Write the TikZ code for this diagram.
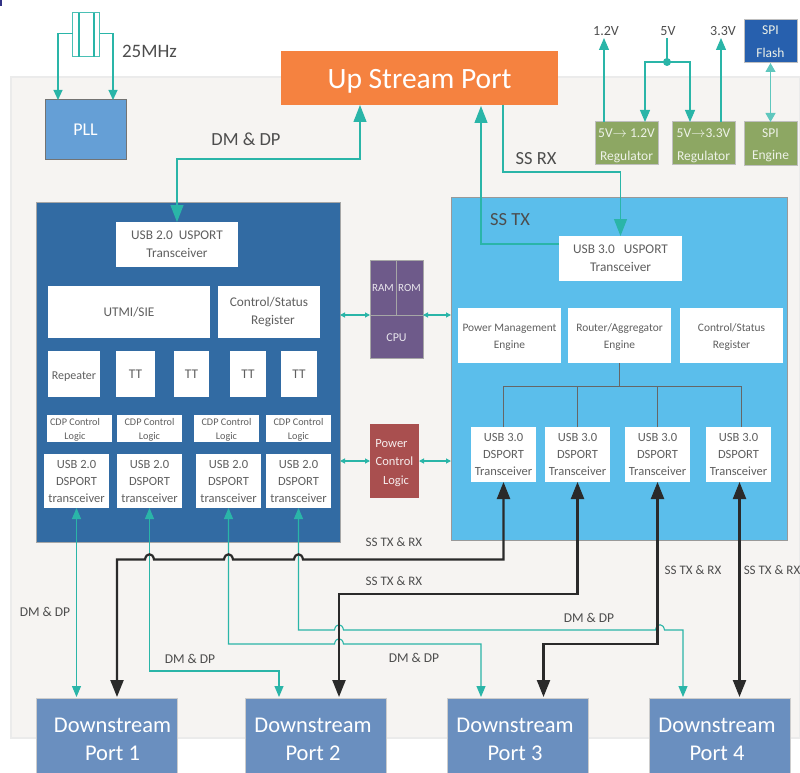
\documentclass[tikz,border=0pt]{standalone}
\usepackage{amsmath}
\usepackage{fontspec}
\setmainfont{Carlito}
\usepackage{tikz}
\usetikzlibrary{arrows.meta, positioning, calc}

\definecolor{tealline}{HTML}{2AB5A8}
\definecolor{blackline}{HTML}{2A2A2A}
\definecolor{lblgray}{HTML}{4D4D4D}
\definecolor{boxgray}{HTML}{5F5F5F}
\definecolor{corefill}{HTML}{F6F4F2}
\definecolor{leftblue}{HTML}{326BA3}
\definecolor{rightblue}{HTML}{5BBEEB}
\definecolor{portblue}{HTML}{6A8FBF}
\definecolor{regreen}{HTML}{8DA763}
\definecolor{cpupurple}{HTML}{6E5A8A}
\definecolor{powerred}{HTML}{A94F4F}
\definecolor{uporange}{HTML}{F58240}
\definecolor{pllblue}{HTML}{659FD6}
\definecolor{flashblue}{HTML}{2760AE}

\tikzset{
    boxbase/.style={rectangle, inner sep=0pt, outer sep=0pt, align=center},
    whitebox/.style={boxbase, fill=white, text=boxgray},
    smalltxt/.style={font=\fontsize{13.3}{18}\selectfont},
    tinytxt/.style={font=\fontsize{11.4}{17}\selectfont},
    usbtxt/.style={font=\fontsize{12.5}{17}\selectfont},
    cdptxt/.style={font=\fontsize{10.2}{13.5}\selectfont},
    portbox/.style={boxbase, fill=portblue, draw=black!20, line width=1pt, text=white,
        minimum width=141pt, minimum height=80pt, font=\fontsize{22.5}{28}\selectfont},
    regbox/.style={boxbase, fill=regreen, draw=black!25, line width=1pt, text=white!85!regreen,
        minimum width=63pt, minimum height=42pt, font=\fontsize{13.5}{22.5}\selectfont},
    lbl/.style={text=lblgray, inner sep=0pt},
    wire/.style={draw=tealline, line width=1.1pt},
    bigwire/.style={wire, {Triangle[length=17pt,width=13pt]}-{Triangle[length=17pt,width=13pt]}},
    midwire/.style={wire, {Triangle[length=11pt,width=9pt]}-{Triangle[length=11pt,width=9pt]}},
    tinywire/.style={wire, {Triangle[length=5pt,width=5pt]}-{Triangle[length=5pt,width=5pt]}},
    heavywire/.style={draw=blackline, line width=2.2pt,
        {Triangle[length=17pt,width=13pt]}-{Triangle[length=17pt,width=13pt]}},
}

\newcommand{\hopx}[2]{-- (#1-4.5,#2) .. controls (#1-3.5,#2-7) and (#1+3.5,#2-7) .. (#1+4.5,#2)}
\newcommand{\toprule}[1]{\rule{0pt}{#1pt}}

\begin{document}
\begin{tikzpicture}[x=1pt, y=-1pt]
    \useasboundingbox (0,0) rectangle (800,773);
    \clip (0,0) rectangle (800,773);
    \fill[blue!40!black!80] (0,0) rectangle (2,6);

    \node[boxbase, fill=corefill, draw=black!8, line width=1.5pt, minimum width=789pt, minimum height=661pt] (core) at (405.5,407.5) {};

    \node[boxbase, fill=uporange, text=white, minimum width=277pt, minimum height=54pt, font=\fontsize{29.5}{30}\selectfont] (upstream) at (419.5,78) {\toprule{25}Up Stream Port};
    \node[boxbase, fill=pllblue, draw=black!55, line width=1pt, text=white, minimum width=81pt, minimum height=59pt, font=\fontsize{18}{20}\selectfont] (pll) at (85.5,129.5) {PLL};
    \node[boxbase, fill=white, draw=tealline!85, line width=1pt, minimum width=27pt, minimum height=44pt] (xtal) at (86,35) {};
    \node[lbl, font=\fontsize{19}{20}\selectfont] (xtallbl) at (149.5,51) {25MHz};

    \node[boxbase, fill=leftblue, draw=black!35, line width=0.8pt, minimum width=304pt, minimum height=340pt] (usbtwo) at (188,372) {};
    \node[boxbase, fill=rightblue, draw=black!40, line width=0.8pt, minimum width=336pt, minimum height=343pt] (usbthree) at (619,368.5) {};

    \node[whitebox, smalltxt, minimum width=122pt, minimum height=45pt] (twousport) at (177,244.5) {USB 2.0\ \ USPORT\\Transceiver};
    \node[whitebox, smalltxt, minimum width=162pt, minimum height=52pt] (utmi) at (129,312) {UTMI/SIE};
    \node[whitebox, smalltxt, minimum width=102pt, minimum height=52pt] (ctrltwo) at (269,312) {Control/Status\\\hspace*{8pt}Register};
    \node[whitebox, font=\fontsize{12}{14}\selectfont, minimum width=52pt, minimum height=46pt] (repeater) at (74,374) {\toprule{12}Repeater};
    \node[whitebox, smalltxt, minimum width=39pt, minimum height=46pt] (tta) at (135.5,374) {TT};
    \node[whitebox, smalltxt, minimum width=35pt, minimum height=46pt] (ttb) at (191.5,374) {TT};
    \node[whitebox, smalltxt, minimum width=36pt, minimum height=46pt] (ttc) at (248,374) {TT};
    \node[whitebox, smalltxt, minimum width=36pt, minimum height=46pt] (ttd) at (299,374) {TT};
    \node[whitebox, cdptxt, minimum width=65pt, minimum height=27pt] (cdpa) at (79.5,428.5) {\toprule{10}\hspace*{-9pt}CDP Control\\\hspace*{-9pt}Logic};
    \node[whitebox, cdptxt, minimum width=65pt, minimum height=27pt] (cdpb) at (149.5,428.5) {\toprule{10}CDP Control\\Logic};
    \node[whitebox, cdptxt, minimum width=65pt, minimum height=27pt] (cdpc) at (226.5,428.5) {\toprule{10}CDP Control\\Logic};
    \node[whitebox, cdptxt, minimum width=65pt, minimum height=27pt] (cdpd) at (298.5,428.5) {\toprule{10}CDP Control\\Logic};
    \node[whitebox, usbtxt, minimum width=65pt, minimum height=54pt] (dsa) at (76.5,481) {USB 2.0\\DSPORT\\transceiver};
    \node[whitebox, usbtxt, minimum width=65pt, minimum height=54pt] (dsb) at (149.5,481) {USB 2.0\\DSPORT\\transceiver};
    \node[whitebox, usbtxt, minimum width=65pt, minimum height=54pt] (dsc) at (228.5,481) {USB 2.0\\DSPORT\\transceiver};
    \node[whitebox, usbtxt, minimum width=65pt, minimum height=54pt] (dsd) at (298.5,481) {USB 2.0\\DSPORT\\transceiver};

    \node[whitebox, smalltxt, minimum width=123pt, minimum height=45pt] (threeusport) at (620.5,258.5) {USB 3.0\ \ \ USPORT\\Transceiver};
    \node[whitebox, tinytxt, minimum width=103pt, minimum height=55pt] (powermgmt) at (509.5,335.5) {\toprule{11}Power Management\\Engine};
    \node[whitebox, tinytxt, minimum width=103pt, minimum height=55pt] (router) at (619.5,335.5) {\toprule{11}Router/Aggregator\\Engine};
    \node[whitebox, tinytxt, minimum width=103pt, minimum height=55pt] (ctrlthree) at (731.5,335.5) {\toprule{11}Control/Status\\Register};
    \node[whitebox, usbtxt, minimum width=65pt, minimum height=55pt] (usa) at (503.5,454.5) {USB 3.0\\DSPORT\\Transceiver};
    \node[whitebox, usbtxt, minimum width=65pt, minimum height=55pt] (usb) at (577.5,454.5) {USB 3.0\\DSPORT\\Transceiver};
    \node[whitebox, usbtxt, minimum width=65pt, minimum height=55pt] (usc) at (657.5,454.5) {USB 3.0\\DSPORT\\Transceiver};
    \node[whitebox, usbtxt, minimum width=65pt, minimum height=55pt] (usd) at (738.5,454.5) {USB 3.0\\DSPORT\\Transceiver};

    \node[boxbase, fill=cpupurple, draw=black!35, line width=1pt, text=white!85!cpupurple, font=\fontsize{11}{12}\selectfont, minimum width=26pt, minimum height=55pt] (ram) at (383,287.5) {RAM};
    \node[boxbase, fill=cpupurple, draw=black!35, line width=1pt, text=white!85!cpupurple, font=\fontsize{11}{12}\selectfont, minimum width=27pt, minimum height=55pt] (rom) at (409.5,287.5) {ROM};
    \node[boxbase, fill=cpupurple, draw=black!35, line width=1pt, text=white!85!cpupurple, font=\fontsize{12}{12}\selectfont, minimum width=53pt, minimum height=43pt] (cpu) at (396.5,336.5) {\toprule{10}CPU};
    \node[boxbase, fill=powerred, text=white!90!powerred, font=\fontsize{12.5}{18.5}\selectfont, minimum width=49pt, minimum height=74pt] (power) at (394.5,461) {\toprule{12}\hspace*{-6pt}Power\\Control\\\hspace*{3pt}Logic};

    \node[regbox] (regtwelve) at (626.5,143) {\toprule{14}5V$\rightarrow$ 1.2V\\Regulator};
    \node[regbox] (regthree) at (703.5,143) {\toprule{14}5V$\rightarrow$3.3V\\Regulator};
    \node[regbox, minimum width=53pt, minimum height=43pt] (spiengine) at (770.5,143.5) {\toprule{12}SPI\\Engine};
    \node[regbox, fill=flashblue, draw=black!25, minimum width=53pt, minimum height=43pt] (spiflash) at (770.5,41.5) {SPI\\Flash};

    \node[lbl, font=\fontsize{14}{14}\selectfont] (vtwelve) at (606,31) {1.2V};
    \node[lbl, font=\fontsize{14}{14}\selectfont] (vfive) at (668,31) {5V};
    \node[lbl, font=\fontsize{14}{14}\selectfont] (vthree) at (723,31) {3.3V};
    \coordinate (junction) at (667,62);
    \coordinate (fivetop) at (667,38);
    \coordinate (twelvetop) at (604,38);
    \coordinate (threetop) at (721,38);
    \fill[tealline] (junction) circle (4pt);

    \node[portbox] (porta) at (106.5,738) {\toprule{18}\hspace*{12pt}Downstream\\\hspace*{12pt}Port 1};
    \node[portbox] (portb) at (315.5,738) {\toprule{18}\hspace*{-5pt}Downstream\\\hspace*{-5pt}Port 2};
    \node[portbox] (portc) at (517.5,738) {\toprule{18}\hspace*{-5pt}Downstream\\\hspace*{-5pt}Port 3};
    \node[portbox] (portd) at (719.5,738) {\toprule{18}\hspace*{-5pt}Downstream\\\hspace*{-5pt}Port 4};

    \coordinate (teala) at (76.5,697);
    \coordinate (tealb) at (279,697);
    \coordinate (tealc) at (481,697);
    \coordinate (teald) at (683,697);
    \coordinate (heavya) at (117,697);
    \coordinate (heavyb) at (339,697);
    \coordinate (heavyc) at (543.5,697);
    \coordinate (heavyd) at (739.5,697);

    \draw[wire] ($(xtal.north west)+(6.5,0)$) -- ($(xtal.south west)+(6.5,0)$);
    \draw[wire] ($(xtal.north east)+(-5.5,0)$) -- ($(xtal.south east)+(-5.5,0)$);
    \draw[wire, -{Triangle[length=10pt,width=9pt]}] (xtal.west |- 0,33.5) -- (58,33.5) -- (58,100);
    \draw[wire, -{Triangle[length=10pt,width=9pt]}] (xtal.east |- 0,33.5) -- (113,33.5) -- (113,100);

    \draw[bigwire] (upstream.south -| 360,0) -- (360,159) -- (177,159) -- (twousport.north);
    \draw[wire, -{Triangle[length=17pt,width=13pt]}] (threeusport.west |- 0,244) -- (481,244) -- (481,106);
    \draw[wire, -{Triangle[length=17pt,width=13pt]}] (upstream.south -| 503,0) -- (503,172) -- (620.5,172) -- (threeusport.north);
    \node[lbl, font=\fontsize{18.5}{20}\selectfont] (dmdpup) at (246,139) {DM \& DP};
    \node[lbl, font=\fontsize{18.5}{20}\selectfont] (ssrx) at (536,159) {SS RX};
    \node[lbl, font=\fontsize{18.5}{20}\selectfont] (sstx) at (510,220) {SS TX};

    \draw[wire, -{Triangle[length=12pt,width=10pt]}] (regtwelve.north -| twelvetop) -- (twelvetop);
    \draw[wire, -{Triangle[length=12pt,width=10pt]}] (regthree.north -| threetop) -- (threetop);
    \draw[wire] (fivetop) -- (junction);
    \draw[wire, -{Triangle[length=12pt,width=10pt]}] (junction) -- (645,62) -- (regtwelve.north -| 645,0);
    \draw[wire, -{Triangle[length=12pt,width=10pt]}] (junction) -- (690,62) -- (regthree.north -| 690,0);
    \draw[wire, {Triangle[length=9pt,width=10pt]}-{Triangle[length=9pt,width=10pt]}, draw=tealline!75] (spiflash.south) -- (spiengine.north);

    \draw[tinywire] (usbtwo.east |- cpu.north) -- (cpu.north west);
    \draw[tinywire] (cpu.north east) -- (usbthree.west |- cpu.north);
    \draw[tinywire] (usbtwo.east |- power.west) -- (power.west);
    \draw[tinywire] (power.east) -- (usbthree.west |- power.east);

    \draw[draw=black!60, line width=0.8pt] (router.south) -- (619.5,386);
    \draw[draw=black!60, line width=0.8pt] (usa.north) -- (usa.north |- 0,386) -- (741,386) -- (741,427);
    \draw[draw=black!60, line width=0.8pt] (usb.north) -- (usb.north |- 0,386);
    \draw[draw=black!60, line width=0.8pt] (usc.north) -- (usc.north |- 0,386);

    \draw[midwire] (dsa.south) -- (teala);
    \draw[midwire] (dsb.south) -- (149.5,671) -- (279,671) -- (tealb);
    \draw[midwire] (dsc.south) -- (228.5,644) \hopx{339}{644} -- (481,644) -- (tealc);
    \draw[midwire] (dsd.south) -- (298.5,630) \hopx{339}{630} \hopx{660}{630} -- (683,630) -- (teald);
    \node[lbl, font=\fontsize{13.5}{14}\selectfont] (dmdpa) at (45,612) {DM \& DP};
    \node[lbl, font=\fontsize{13.5}{14}\selectfont] (dmdpb) at (190,659) {DM \& DP};
    \node[lbl, font=\fontsize{13.5}{14}\selectfont] (dmdpc) at (414,658) {DM \& DP};
    \node[lbl, font=\fontsize{13.5}{14}\selectfont] (dmdpd) at (589,618) {DM \& DP};

    \draw[heavywire] (heavya) -- (117,559.5) \hopx{149.5}{559.5} \hopx{228.5}{559.5} \hopx{298.5}{559.5} -- (503.5,559.5) -- (usa.south);
    \draw[heavywire] (heavyb) -- (339,594) -- (577.5,594) -- (usb.south);
    \draw[heavywire] (heavyc) -- (543.5,644) -- (657.5,644) -- (usc.south);
    \draw[heavywire] (heavyd) -- (heavyd |- usd.south);
    \node[lbl, font=\fontsize{13}{14}\selectfont] (ssa) at (394,542) {SS TX \& RX};
    \node[lbl, font=\fontsize{13}{14}\selectfont] (ssb) at (394,581) {SS TX \& RX};
    \node[lbl, font=\fontsize{13}{14}\selectfont] (ssc) at (693,570) {SS TX \& RX};
    \node[lbl, font=\fontsize{13}{14}\selectfont] (ssd) at (772,570) {SS TX \& RX};
\end{tikzpicture}
\end{document}
